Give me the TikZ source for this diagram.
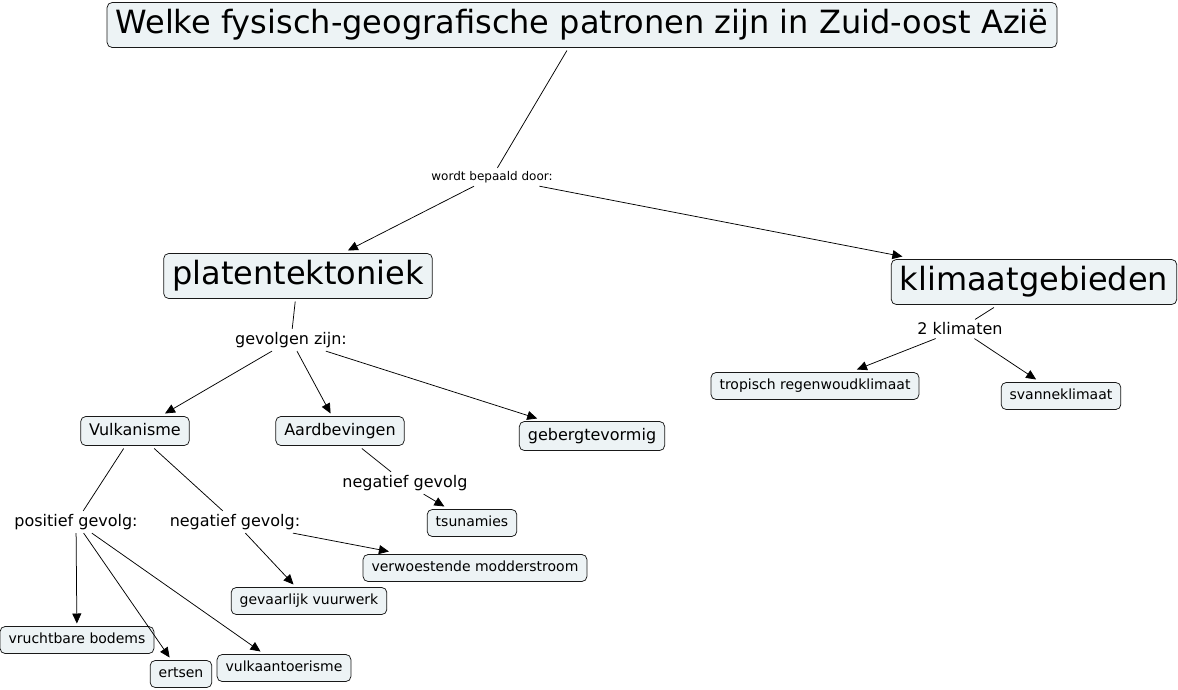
\documentclass[tikz,border=0pt]{standalone}
\usepackage{fontspec}
\setmainfont{DejaVu Sans}
\usetikzlibrary{arrows.meta}
\definecolor{cmapfill}{RGB}{237,243,245}
\tikzset{
  concept/.style={draw=black!90, fill=cmapfill, rounded corners=5pt,
    inner xsep=8.5pt, inner ysep=6.5pt, outer sep=3pt},
  big concept/.style={concept, font=\fontsize{32}{38}\selectfont,
    text height=24pt, text depth=8pt},
  mid concept/.style={concept, font=\fontsize{16}{19}\selectfont,
    text height=12pt, text depth=4pt},
  small concept/.style={concept, font=\fontsize{14}{17}\selectfont,
    text height=10.5pt, text depth=3.5pt},
  linkword/.style={inner sep=3pt, font=\fontsize{16}{19}\selectfont},
}
\begin{document}
\begin{tikzpicture}[x=1pt, y=-1pt, >={Triangle[length=10pt, width=9pt]}, line width=0.75pt]
    \useasboundingbox (0,0) rectangle (1178,689);

    \node[big concept] (vraag) at (582,25) {Welke fysisch-geografische patronen zijn in Zuid-oost Azië};
    \node[linkword, font=\fontsize{12}{14}\selectfont] (bepaald) at (492,177) {wordt bepaald door:};

    \node[big concept] (platen) at (298,276) {platentektoniek};
    \node[big concept] (klimaat) at (1034,282) {klimaatgebieden};

    \node[linkword] (gevolgen) at (291,340) {gevolgen zijn:};
    \node[linkword] (tweeklim) at (960,329) {2 klimaten};

    \node[small concept] (tropisch) at (815,386) {tropisch regenwoudklimaat};
    \node[small concept] (savanne) at (1061,396) {svanneklimaat};

    \node[mid concept] (vulkan) at (135,431) {Vulkanisme};
    \node[mid concept] (aardbev) at (340,431) {Aardbevingen};
    \node[mid concept] (gebergte) at (592,436) {gebergtevormig};

    \node[linkword] (negaard) at (405,483) {negatief gevolg};
    \node[small concept] (tsunami) at (472,523) {tsunamies};

    \node[linkword] (posvulk) at (76,522) {positief gevolg:};
    \node[linkword] (negvulk) at (235,522) {negatief gevolg:};

    \node[small concept] (modder) at (475,568) {verwoestende modderstroom};
    \node[small concept] (vuurwerk) at (309,601) {gevaarlijk vuurwerk};
    \node[small concept] (bodems) at (77,640) {vruchtbare bodems};
    \node[small concept] (ertsen) at (181,674) {ertsen};
    \node[small concept] (toerisme) at (284,668) {vulkaantoerisme};

    \draw (vraag) -- (bepaald);
    \draw[->] (bepaald) -- (platen);
    \draw[->] (bepaald) -- (klimaat);

    \draw (platen) -- (gevolgen);
    \draw[->] (gevolgen) -- (vulkan);
    \draw[->] (gevolgen) -- (aardbev);
    \draw[->] (gevolgen) -- (gebergte);

    \draw (klimaat) -- (tweeklim);
    \draw[->] (tweeklim) -- (tropisch);
    \draw[->] (tweeklim) -- (savanne);

    \draw (aardbev) -- (negaard);
    \draw[->] (negaard) -- (tsunami);

    \draw (vulkan) -- (posvulk);
    \draw (vulkan) -- (negvulk);
    \draw[->] (posvulk) -- (bodems);
    \draw[->] (posvulk) -- (ertsen);
    \draw[->] (posvulk) -- (toerisme);
    \draw[->] (negvulk) -- (vuurwerk);
    \draw[->] (negvulk) -- (modder);
\end{tikzpicture}
\end{document}
